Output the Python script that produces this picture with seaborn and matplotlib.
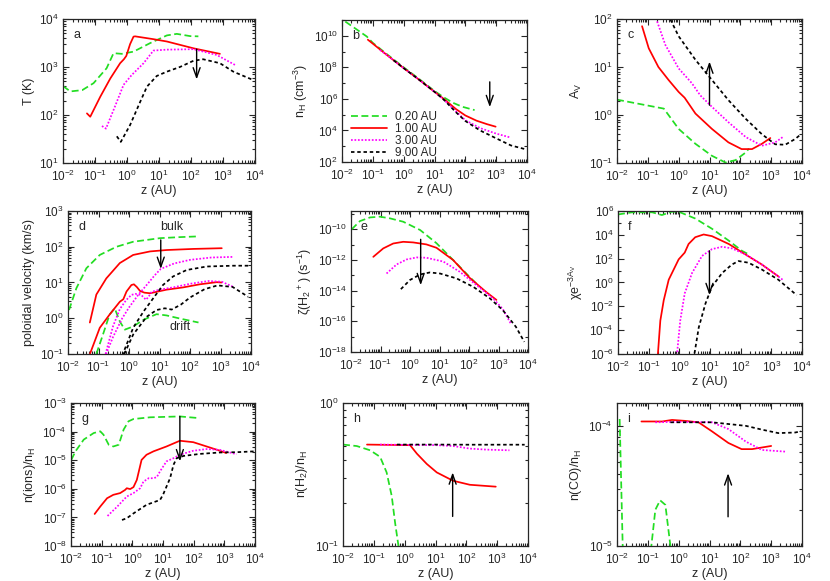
import numpy as np
import pandas as pd
import seaborn as sns
import matplotlib
matplotlib.use("Agg")
import matplotlib.pyplot as plt
from matplotlib.lines import Line2D
from matplotlib.ticker import LogLocator, NullFormatter, FixedLocator, LogFormatterSciNotation

radii = ["0.20 AU", "1.00 AU", "3.00 AU", "9.00 AU"]

# ---- panel a: temperature (K)
a_z_02 = [0.01, 0.017, 0.04, 0.09, 0.23, 0.38, 0.69, 1.6, 5.3, 17.6, 36, 94, 170]
a_v_02 = [400, 310, 330, 460, 940, 1940, 1880, 2090, 3150, 4550, 4900, 4400, 4350]
a_z_1 = [0.056, 0.071, 0.146, 0.3, 0.61, 0.8, 0.95, 1.25, 1.6, 1.8, 6.7, 17.6, 120, 800]
a_v_1 = [108, 92, 240, 575, 1200, 1450, 1700, 3000, 4300, 4350, 3800, 3400, 2450, 1880]
a_z_3 = [0.165, 0.22, 0.42, 0.78, 1.4, 3.3, 6.7, 17.6, 120, 640, 2400]
a_v_3 = [59, 52, 150, 425, 680, 1200, 2200, 2300, 2350, 1780, 1100]
a_z_9 = [0.48, 0.64, 1.25, 2.6, 4.2, 8.5, 17.6, 45, 120, 240, 800, 2100, 8500]
a_v_9 = [36, 27.5, 62, 190, 390, 650, 800, 1000, 1350, 1450, 1200, 800, 540]

# ---- panel b: log10 n_H (cm^-3)
b_z_02 = [0.0128, 0.03, 0.064, 0.1, 0.3, 1.0, 3, 10, 20, 40, 80, 200]
b_lg_02 = [10.9, 10.4, 9.95, 9.55, 8.8, 8.0, 7.3, 6.5, 6.1, 5.75, 5.5, 5.29]
b_z_1 = [0.069, 0.1, 0.3, 1, 3, 10, 20, 50, 100, 230, 500, 960]
b_lg_1 = [9.75, 9.5, 8.75, 7.95, 7.25, 6.45, 6.0, 5.35, 4.95, 4.62, 4.4, 4.24]
b_z_3 = [0.17, 0.3, 1, 3, 10, 20, 50, 100, 300, 1000, 2700]
b_lg_3 = [9.1, 8.75, 7.95, 7.25, 6.45, 5.95, 5.2, 4.65, 4.15, 3.8, 3.57]
b_z_9 = [0.47, 1, 3, 10, 20, 50, 100, 300, 1000, 3000, 8500]
b_lg_9 = [8.45, 7.95, 7.25, 6.45, 5.95, 5.15, 4.6, 4.0, 3.5, 3.05, 2.82]

# ---- panel c: log10 A_V
c_z_02 = [0.01, 0.33, 1.0, 3.5, 12, 33, 70, 150, 190]
c_lg_02 = [0.32, 0.133, -0.29, -0.60, -0.85, -0.99, -0.94, -0.78, -0.70]
c_z_1 = [0.065, 0.107, 0.22, 0.47, 1, 1.56, 3.5, 12, 41, 110, 240, 500, 940]
c_lg_1 = [1.85, 1.39, 1.0, 0.73, 0.48, 0.36, 0.03, -0.29, -0.57, -0.71, -0.71, -0.60, -0.48]
c_z_3 = [0.2, 0.37, 1, 2.7, 5, 12, 41, 150, 500, 1350, 2500]
c_lg_3 = [1.95, 1.46, 0.97, 0.66, 0.41, 0.17, -0.15, -0.46, -0.64, -0.57, -0.45]
c_z_9 = [0.54, 1, 3.5, 12, 41, 150, 500, 1350, 2850, 6000, 9300]
c_lg_9 = [1.99, 1.64, 1.15, 0.73, 0.31, -0.08, -0.40, -0.61, -0.62, -0.50, -0.40]

# ---- panel d: poloidal velocity (km/s), bulk and drift
d_bulk_z_02 = [0.0108, 0.0188, 0.04, 0.11, 0.39, 1.37, 10.4, 47, 190]
d_bulk_v_02 = [1.7, 6.9, 25, 59, 100, 138, 174, 186, 195]
d_bulk_z_1 = [0.052, 0.085, 0.18, 0.5, 1.37, 4.9, 17.2, 130, 1100]
d_bulk_v_1 = [0.76, 4.6, 13, 35, 59, 74, 81, 87, 91]
d_bulk_z_3 = [0.16, 0.3, 0.6, 1.0, 2, 4, 7, 11, 30, 100, 500, 2500]
d_bulk_v_3 = [0.08, 0.3, 1.0, 2.0, 4.5, 9, 16, 24, 34, 43, 50, 52]
d_bulk_z_9 = [0.6, 1.37, 3, 6.2, 13, 28, 78, 350, 2600, 9000]
d_bulk_v_9 = [0.09, 0.54, 1.55, 3.6, 8.5, 14.8, 22.4, 28, 29.5, 29.5]
d_drift_z_02 = [0.085, 0.14, 0.23, 0.34, 0.5, 0.73, 1.37, 3, 8, 17, 47, 190]
d_drift_v_02 = [0.1, 0.35, 1.26, 1.9, 0.81, 0.48, 0.59, 0.91, 1.3, 1.2, 0.98, 0.76]
d_drift_z_1 = [0.05, 0.11, 0.23, 0.5, 0.65, 0.83, 1.2, 1.45, 1.8, 2.3, 3.2, 4.9, 17, 60, 210, 740, 1100]
d_drift_v_1 = [0.09, 0.54, 1.26, 2.9, 3.4, 5.6, 8.5, 8.9, 7.5, 5.8, 5.2, 5.0, 6.3, 7.3, 8.9, 10.2, 10]
d_drift_z_3 = [0.17, 0.3, 0.5, 0.8, 1.2, 1.6, 2.5, 3.6, 4.4, 5.5, 10, 30, 100, 400, 1100, 2500]
d_drift_v_3 = [0.1, 0.6, 1.8, 3.2, 4.5, 4.8, 4.5, 3.3, 4.0, 5.5, 6.3, 7.4, 9.2, 11, 10.5, 7.7]
d_drift_z_9 = [0.7, 1.37, 3.8, 8, 15, 25, 50, 100, 300, 800, 2500, 8000]
d_drift_v_9 = [0.1, 0.35, 1.1, 1.7, 1.9, 1.75, 2.4, 3.8, 6.5, 8.3, 7.5, 4.0]

# ---- panel e: log10 zeta(H2+) (s^-1)
e_z_02 = [0.0105, 0.02, 0.044, 0.095, 0.21, 0.59, 2.2, 7.9, 29, 105, 180]
e_lg_02 = [-10.0, -9.46, -9.22, -9.17, -9.28, -9.5, -10.04, -10.9, -12.0, -13.1, -13.55]
e_z_1 = [0.057, 0.124, 0.27, 0.59, 1.28, 3.6, 7.9, 29, 105, 390, 850]
e_lg_1 = [-11.79, -11.24, -10.92, -10.81, -10.85, -10.98, -11.2, -12.0, -13.16, -14.1, -14.6]
e_z_3 = [0.16, 0.35, 0.77, 1.67, 3.6, 13.5, 49, 180, 660, 1400, 2700]
e_lg_3 = [-12.88, -12.29, -11.96, -11.83, -11.85, -12.1, -12.77, -13.64, -14.51, -15.2, -16.2]
e_z_9 = [0.49, 1.0, 2.2, 4.7, 10.5, 38, 140, 510, 1400, 3900, 7500]
e_lg_9 = [-13.9, -13.3, -12.94, -12.81, -12.88, -13.2, -13.75, -14.5, -15.27, -16.36, -17.34]

# ---- panel f: log10 chi exp(-3 A_V)
f_z_02 = [0.01, 0.029, 0.13, 0.27, 0.57, 0.95, 3.3, 11.6, 41, 110, 180]
f_lg_02 = [5.71, 5.89, 5.89, 5.66, 5.94, 5.94, 5.37, 4.51, 3.51, 2.66, 2.37]
f_z_1 = [0.19, 0.2, 0.24, 0.31, 0.45, 0.95, 1.5, 2.0, 3.3, 6.2, 11.6, 41, 140, 490, 1700]
f_lg_1 = [-7, -6, -3.2, -1.49, 0.23, 1.94, 2.51, 3.23, 3.8, 4.03, 3.89, 3.23, 2.37, 1.51, 0.51]
f_z_3 = [0.82, 0.84, 1.07, 1.5, 2.6, 5.5, 11.6, 25, 52, 140, 490, 1700, 2500]
f_lg_3 = [-7, -6, -3.2, -0.91, 0.8, 2.23, 2.8, 3.0, 2.86, 2.37, 1.51, 0.51, 0.17]
f_z_9 = [3.0, 3.1, 4.3, 7.1, 11.6, 25, 52, 85, 180, 490, 1700, 6700]
f_lg_9 = [-7, -6, -3.77, -1.77, -0.34, 0.8, 1.51, 1.8, 1.66, 1.09, 0.23, -1.06]

# ---- panel g: log10 n(ions)/n_H
g_z_02 = [0.0102, 0.014, 0.026, 0.055, 0.09, 0.115, 0.17, 0.24, 0.36, 0.52, 0.75, 1.09, 3.8, 35.5, 158]
g_lg_02 = [-4.99, -4.69, -4.28, -4.05, -3.99, -4.11, -4.46, -4.52, -4.46, -3.93, -3.64, -3.56, -3.50, -3.47, -3.53]
g_z_1 = [0.059, 0.09, 0.15, 0.24, 0.4, 0.58, 0.66, 0.85, 1.09, 1.4, 2.0, 2.9, 4.9, 13, 35.5, 97, 265, 720, 1150]
g_lg_1 = [-6.88, -6.62, -6.33, -6.21, -6.15, -6.04, -5.98, -6.01, -5.94, -5.69, -4.99, -4.81, -4.69, -4.52, -4.32, -4.37, -4.52, -4.67, -4.75]
g_z_3 = [0.155, 0.31, 0.66, 1.09, 1.8, 2.3, 3.4, 4.9, 6.3, 8, 13, 22, 35.5, 97, 265, 720, 2500]
g_lg_3 = [-6.95, -6.64, -6.27, -6.15, -5.98, -5.75, -5.63, -5.63, -5.59, -5.39, -5.04, -4.93, -4.81, -4.67, -4.61, -4.64, -4.79]
g_z_9 = [0.46, 0.66, 1.09, 2.9, 8, 10, 17, 22, 28, 47, 160, 720, 2500, 10000]
g_lg_9 = [-7.09, -7.03, -6.86, -6.56, -6.39, -6.21, -5.63, -5.16, -4.93, -4.85, -4.78, -4.73, -4.72, -4.69]

# ---- panel h: n(H2)/n_H
h_z_02 = [0.01, 0.028, 0.076, 0.16, 0.26, 0.38, 0.49, 0.63, 0.7]
h_v_02 = [0.512, 0.50, 0.467, 0.42, 0.327, 0.224, 0.145, 0.1, 0.08]
h_z_1 = [0.06, 1.5, 2.5, 5.2, 11, 37, 130, 900]
h_v_1 = [0.512, 0.507, 0.442, 0.375, 0.327, 0.286, 0.268, 0.26]
h_z_3 = [0.16, 11, 37, 130, 450, 2500]
h_v_3 = [0.512, 0.507, 0.50, 0.48, 0.472, 0.467]
h_z_9 = [0.56, 10, 100, 1000, 7800]
h_v_9 = [0.512, 0.512, 0.511, 0.511, 0.511]

# ---- panel i: n(CO)/n_H
i_z_02 = [0.0122, 0.0153, 0.02, 0.1, 0.13, 0.175, 0.25, 0.37, 0.54, 0.7]
i_v_02 = [1.14e-4, 1e-5, 2e-6, 2e-6, 1e-5, 2.0e-5, 2.4e-5, 2.2e-5, 1e-5, 3e-6]
i_z_1 = [0.062, 0.29, 0.61, 1.6, 4.4, 12, 41, 110, 240, 1000]
i_v_1 = [1.087e-4, 1.087e-4, 1.12e-4, 1.1e-4, 1.07e-4, 9e-5, 7.2e-5, 6.4e-5, 6.4e-5, 6.8e-5]
i_z_3 = [0.175, 1, 12, 41, 150, 500, 2900]
i_v_3 = [1.07e-4, 1.08e-4, 1.07e-4, 9.4e-5, 7.4e-5, 6.3e-5, 6.1e-5]
i_z_9 = [0.54, 12, 150, 500, 1700, 6000, 9300]
i_v_9 = [1.07e-4, 1.07e-4, 1.0e-4, 9.3e-5, 8.7e-5, 8.8e-5, 9e-5]

colors = {"0.20 AU": "#22dd22", "1.00 AU": "#ff0000", "3.00 AU": "#ff00ff", "9.00 AU": "#000000"}
dashes = {"0.20 AU": (4, 2), "1.00 AU": "", "3.00 AU": (1, 1), "9.00 AU": (2, 1.6)}


def frame(series, log=False):
    # series: list of (radius, part, z, values)
    rows = []
    for radius, part, z, v in series:
        v = np.power(10.0, v) if log else np.asarray(v, float)
        rows.append(pd.DataFrame({"z": z, "val": v, "radius": radius, "part": part}))
    return pd.concat(rows, ignore_index=True)


def quad(z02, v02, z1, v1, z3, v3, z9, v9, log=False):
    return frame([(radii[0], "x", z02, v02), (radii[1], "x", z1, v1),
                  (radii[2], "x", z3, v3), (radii[3], "x", z9, v9)], log)


sns.set_theme(style="ticks")
plt.rcParams["font.family"] = ["Liberation Sans", "DejaVu Sans"]
plt.rcParams["mathtext.default"] = "regular"

fig = plt.figure(figsize=(8.3, 5.81), dpi=100)


def make_ax(l, t, r, b):
    return fig.add_axes([l / 830, 1 - b / 581, (r - l) / 830, (b - t) / 581])


def draw(ax, df, ylim, ylabel, letter, every=1):
    sns.lineplot(data=df, x="z", y="val", hue="radius", style="radius", units="part",
                 estimator=None, palette=colors, dashes=dashes, legend=False,
                 linewidth=1.25, ax=ax)
    ax.set_xscale("log")
    ax.set_yscale("log")
    ax.set_xlim(1e-2, 1e4)
    ax.set_ylim(*ylim)
    ax.xaxis.set_major_locator(FixedLocator([10.0 ** k for k in range(-2, 5)]))
    ax.xaxis.set_minor_locator(LogLocator(base=10, subs=np.arange(2, 10), numticks=30))
    ax.xaxis.set_minor_formatter(NullFormatter())
    lo, hi = int(np.floor(np.log10(ylim[0]))), int(np.ceil(np.log10(ylim[1])))
    if every == 1:
        ax.yaxis.set_major_locator(FixedLocator([10.0 ** k for k in range(lo, hi + 1)]))
        ax.yaxis.set_minor_locator(LogLocator(base=10, subs=np.arange(2, 10), numticks=30))
    else:
        ax.yaxis.set_major_locator(FixedLocator([10.0 ** k for k in range(lo, hi + 1) if (k - lo) % every == 0]))
        ax.yaxis.set_minor_locator(FixedLocator([10.0 ** k for k in range(lo, hi + 1) if (k - lo) % every != 0]))
    ax.yaxis.set_major_formatter(LogFormatterSciNotation())
    ax.yaxis.set_minor_formatter(NullFormatter())
    ax.tick_params(which="both", direction="in", top=True, right=True, labelsize=8.5, width=0.8)
    ax.tick_params(which="major", length=4, pad=3)
    ax.tick_params(axis="x", which="major", pad=4)
    ax.tick_params(which="minor", length=2)
    for s in ax.spines.values():
        s.set_linewidth(0.9)
    ax.set_xlabel("z (AU)", fontsize=9, labelpad=1)
    ax.set_ylabel(ylabel, fontsize=9, labelpad=3)
    ax.text(0.055, 0.93, letter, transform=ax.transAxes, fontsize=9, va="top")


def arrow(ax, z, v0, v1):
    ax.annotate("", xy=(z, v1), xytext=(z, v0),
                arrowprops=dict(arrowstyle="->,head_length=0.7,head_width=0.25",
                                color="black", lw=1.0, mutation_scale=10, shrinkA=0, shrinkB=0))


# row 1
ax = make_ax(63, 19, 255, 163)
draw(ax, quad(a_z_02, a_v_02, a_z_1, a_v_1, a_z_3, a_v_3, a_z_9, a_v_9), (10, 1e4), "T (K)", "a")
arrow(ax, 150, 2350, 550)

ax = make_ax(342, 20, 527, 162)
draw(ax, quad(b_z_02, b_lg_02, b_z_1, b_lg_1, b_z_3, b_lg_3, b_z_9, b_lg_9, log=True),
     (1e2, 1e11), "n$_H$ (cm$^{-3}$)", "b", every=2)
arrow(ax, 620, 1.2e7, 3e5)
handles = []
for r in radii:
    h = Line2D([], [], color=colors[r], lw=1.25)
    if dashes[r]:
        h.set_dashes(dashes[r])
    handles.append(h)
ax.legend(handles, radii, loc="upper left", bbox_to_anchor=(0.04, 0.37), frameon=False,
          fontsize=8.5, handlelength=3.1, handletextpad=0.7, labelspacing=0.0,
          handleheight=0.5, borderaxespad=0.0, borderpad=0.1)

ax = make_ax(617, 19, 802, 163)
draw(ax, quad(c_z_02, c_lg_02, c_z_1, c_lg_1, c_z_3, c_lg_3, c_z_9, c_lg_9, log=True),
     (0.1, 100), "A$_V$", "c")
arrow(ax, 10, 1.6, 13)

# row 2
ax = make_ax(68, 211, 251, 354)
d_df = frame([(radii[0], "bulk", d_bulk_z_02, d_bulk_v_02), (radii[1], "bulk", d_bulk_z_1, d_bulk_v_1),
              (radii[2], "bulk", d_bulk_z_3, d_bulk_v_3), (radii[3], "bulk", d_bulk_z_9, d_bulk_v_9),
              (radii[0], "drift", d_drift_z_02, d_drift_v_02), (radii[1], "drift", d_drift_z_1, d_drift_v_1),
              (radii[2], "drift", d_drift_z_3, d_drift_v_3), (radii[3], "drift", d_drift_z_9, d_drift_v_9)])
draw(ax, d_df, (0.1, 1e3), "poloidal velocity (km/s)", "d")
arrow(ax, 11, 155, 24)
ax.text(25, 350, "bulk", fontsize=9, ha="center", va="center")
ax.text(47, 0.57, "drift", fontsize=9, ha="center", va="center")

ax = make_ax(351, 211, 528, 352)
draw(ax, quad(e_z_02, e_lg_02, e_z_1, e_lg_1, e_z_3, e_lg_3, e_z_9, e_lg_9, log=True),
     (1e-18, 10 ** -8.8), "ζ(H$_2$$^+$) (s$^{-1}$)", "e", every=2)
arrow(ax, 2.3, 10 ** -10.65, 10 ** -13.64)

ax = make_ax(618, 211, 802, 354)
draw(ax, quad(f_z_02, f_lg_02, f_z_1, f_lg_1, f_z_3, f_lg_3, f_z_9, f_lg_9, log=True),
     (1e-6, 1e6), "χe$^{-3A_V}$", "f", every=2)
arrow(ax, 9.6, 10 ** 2.66, 10 ** -1.06)

# row 3
ax = make_ax(71, 403, 255, 546)
draw(ax, quad(g_z_02, g_lg_02, g_z_1, g_lg_1, g_z_3, g_lg_3, g_z_9, g_lg_9, log=True),
     (1e-8, 1e-3), "n(ions)/n$_H$", "g")
arrow(ax, 35.5, 10 ** -3.47, 10 ** -5.04)

ax = make_ax(343, 403, 528, 546)
draw(ax, quad(h_z_02, h_v_02, h_z_1, h_v_1, h_z_3, h_v_3, h_z_9, h_v_9), (0.1, 1.0), "n(H$_2$)/n$_H$", "h")
arrow(ax, 36, 0.161, 0.327)

ax = make_ax(617, 403, 802, 546)
draw(ax, quad(i_z_02, i_v_02, i_z_1, i_v_1, i_z_3, i_v_3, i_z_9, i_v_9), (1e-5, 10 ** -3.81), "n(CO)/n$_H$", "i")
arrow(ax, 40, 1.75e-5, 4.03e-5)

fig.savefig("out.png", dpi=100)
